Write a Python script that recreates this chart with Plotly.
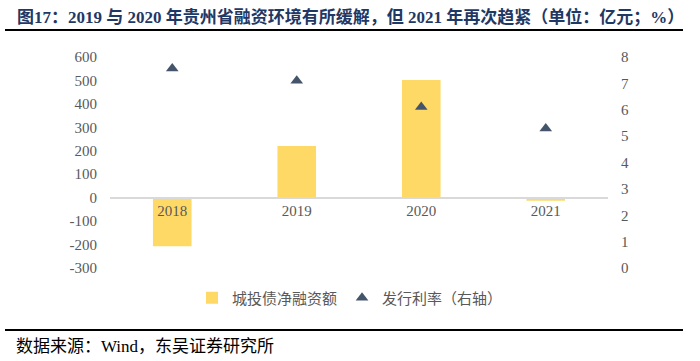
import plotly.graph_objects as go

categories = ["2018", "2019", "2020", "2021"]
net_financing = [-207, 220, 502, -13]
issue_rate = [7.56, 7.10, 6.10, 5.29]
left_ticks = [-300, -200, -100, 0, 100, 200, 300, 400, 500, 600]
left_labels = ["-300", "-200", "-100", "0", "100", "200", "300", "400", "500", "600"]
right_ticks = [0, 1, 2, 3, 4, 5, 6, 7, 8]

SERIF = "Liberation Serif, Times New Roman, Noto Sans CJK SC, serif"
GRAY = "#595959"

L, R, T, B = 110, 92, 57, 93
PW, PH = 700 - L - R, 361 - T - B


def px_x(x):
    return (x - L) / PW


def px_y(y):
    return 1 - (y - T) / PH


fig = go.Figure()
fig.add_trace(go.Bar(
    x=categories, y=net_financing, name="城投债净融资额",
    marker=dict(color="#FFD966", line=dict(width=0)), width=0.31, yaxis="y",
))
fig.add_trace(go.Scatter(
    x=categories, y=issue_rate, name="发行利率（右轴）", mode="markers",
    marker=dict(symbol="triangle-up", size=11, color="#44546A"), yaxis="y2",
))

fig.update_layout(
    width=700, height=361,
    margin=dict(l=L, r=R, t=T, b=B, autoexpand=False),
    paper_bgcolor="white", plot_bgcolor="white",
    font=dict(family=SERIF, size=15, color=GRAY),
    showlegend=True,
    legend=dict(orientation="h", x=0.5, xanchor="center", xref="container",
                y=1 - 298 / 361, yref="container", yanchor="middle",
                bgcolor="rgba(0,0,0,0)",
                font=dict(size=15, color=GRAY, family="Noto Sans CJK SC, serif"),
                itemwidth=30, tracegroupgap=0),
    xaxis=dict(anchor="free", position=1 / 3, showline=True, linecolor="#D9D9D9",
               linewidth=1.5, ticks="", showgrid=False, zeroline=False,
               tickfont=dict(size=15, color=GRAY, family=SERIF)),
    yaxis=dict(range=[-300, 600], tickvals=left_ticks, ticktext=left_labels,
               showgrid=False, zeroline=False, ticklabelstandoff=12,
               showline=False, ticks="", tickfont=dict(size=15, color=GRAY, family=SERIF)),
    yaxis2=dict(range=[0, 8], tickvals=right_ticks, overlaying="y", side="right",
                showgrid=False, zeroline=False, showline=False, ticks="",
                ticklabelstandoff=12,
                tickfont=dict(size=15, color=GRAY, family=SERIF)),
)

fig.add_annotation(
    text="<b>图17：2019 与 2020 年贵州省融资环境有所缓解，但 2021 年再次趋紧（单位：亿元；%）</b>",
    xref="paper", yref="paper", x=px_x(15), y=px_y(17),
    xanchor="left", yanchor="middle", showarrow=False,
    font=dict(size=17, color="#1F3864", family="Liberation Serif, Noto Sans CJK SC, serif"),
)
fig.add_annotation(
    text="数据来源：Wind，东吴证券研究所",
    xref="paper", yref="paper", x=px_x(14), y=px_y(346),
    xanchor="left", yanchor="middle", showarrow=False,
    font=dict(size=17, color="#000000", family="Liberation Serif, Noto Sans CJK SC, serif"),
)
for yy in (30, 330):
    fig.add_shape(type="line", xref="paper", yref="paper",
                  x0=px_x(5), x1=px_x(683),
                  y0=px_y(yy), y1=px_y(yy),
                  line=dict(color="#000000", width=2))

fig.write_html("out.html", config={"displayModeBar": False},
               post_script="document.body.style.margin='0';")
